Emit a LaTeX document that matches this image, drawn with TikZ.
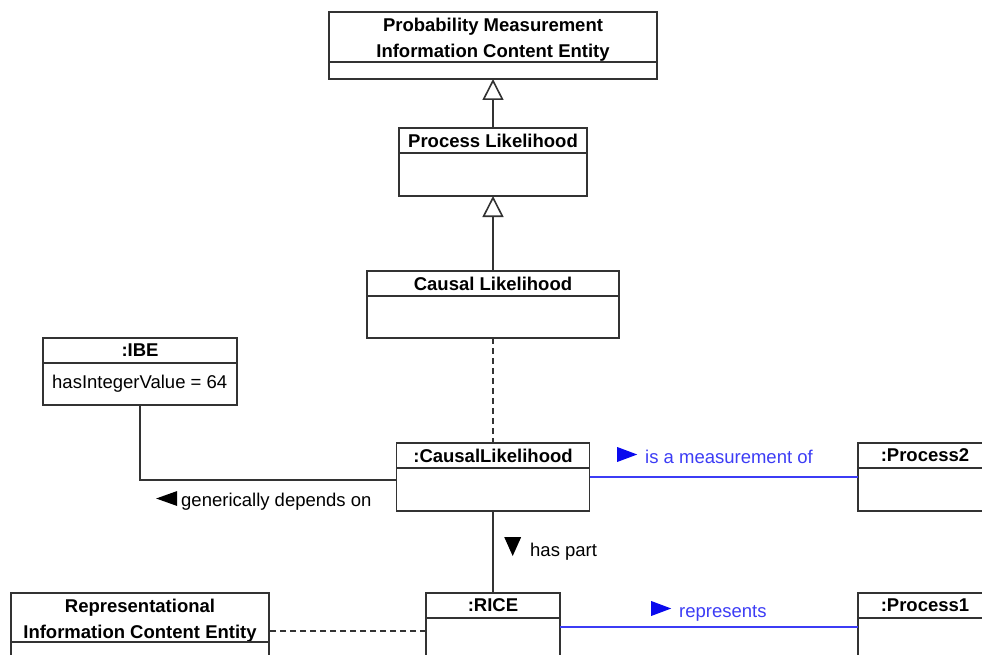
\documentclass[tikz,border=0pt]{standalone}
\usepackage{fontspec}
\setmainfont{Liberation Sans}
\usetikzlibrary{arrows.meta,positioning}
\definecolor{umlline}{HTML}{333333}
\definecolor{Assoc}{HTML}{3C3CF5}
\definecolor{AssocTip}{HTML}{0A0AEE}

\newcommand{\tipright}[1]{\tikz[baseline=0pt]\fill[#1] (0pt,1pt) -- (20pt,8.5pt) -- (0pt,16pt) -- cycle;}
\newcommand{\tipleft}[1]{\tikz[baseline=0pt]\fill[#1] (21pt,0pt) -- (0pt,7.5pt) -- (21pt,15pt) -- cycle;}
\newcommand{\tipdown}[1]{\tikz[baseline=0pt]\fill[#1] (0pt,19pt) -- (17pt,19pt) -- (8.5pt,0pt) -- cycle;}

\begin{document}
\begin{tikzpicture}[x=1pt, y=-1pt,
    font=\fontsize{18.5}{26}\selectfont,
    umlhead/.style={draw=umlline, line width=1.8pt, inner sep=0pt, outer sep=0pt,
      anchor=north, minimum height=25pt, align=center,
      font=\fontsize{18.5}{26}\selectfont\bfseries},
    umlbody/.style={draw=umlline, line width=1.8pt, inner sep=0pt, outer sep=0pt,
      below=0pt of #1},
    generalize/.style={draw=umlline, line width=1.6pt,
      -{Triangle[open, length=21pt, width=21pt]}},
    realize/.style={draw=umlline, line width=1.6pt, dash pattern=on 6pt off 4pt},
    assocline/.style={draw=umlline, line width=1.6pt},
    measure/.style={draw=Assoc, line width=1.6pt},
    lbl/.style={anchor=base west, inner sep=0pt}]
    \useasboundingbox (0,0) rectangle (982,655);
    \clip (0,0) rectangle (982,655);

    \node at (493, 12) (pm) [umlhead, minimum width=328pt, minimum height=50pt] {\rule{0pt}{19pt}Probability Measurement\\Information Content Entity};
    \node (pmb) [umlbody=pm, minimum width=328pt, minimum height=17pt] {};
    \node at (493, 128) (pl) [umlhead, minimum width=188pt] {Process Likelihood};
    \node (plb) [umlbody=pl, minimum width=188pt, minimum height=43pt] {};
    \node at (493, 271) (cl) [umlhead, minimum width=252pt] {Causal Likelihood};
    \node (clb) [umlbody=cl, minimum width=252pt, minimum height=42pt] {};
    \node at (140, 338) (ibe) [umlhead, minimum width=194pt] {:IBE};
    \node (ibeb) [umlbody=ibe, minimum width=194pt, minimum height=42pt] {};
    \node at (52, 388) (ibeval) [lbl] {hasIntegerValue = 64};
    \node at (493, 443) (cli) [umlhead, minimum width=193pt] {:CausalLikelihood};
    \node (clib) [umlbody=cli, minimum width=193pt, minimum height=43pt] {};
    \node at (925, 443) (ptwo) [umlhead, minimum width=134pt] {:Process2};
    \node (ptwob) [umlbody=ptwo, minimum width=134pt, minimum height=43pt] {};
    \node at (140, 593) (ric) [umlhead, minimum width=258pt, minimum height=49pt] {\rule{0pt}{19pt}Representational\\Information Content Entity};
    \node (ricb) [umlbody=ric, minimum width=258pt, minimum height=40pt] {};
    \node at (493, 593) (rice) [umlhead, minimum width=134pt] {:RICE};
    \node (riceb) [umlbody=rice, minimum width=134pt, minimum height=60pt] {};
    \node at (925, 593) (pone) [umlhead, minimum width=134pt] {:Process1};
    \node (poneb) [umlbody=pone, minimum width=134pt, minimum height=60pt] {};

    \draw[generalize] (pl.north) -- (pmb.south);
    \draw[generalize] (cl.north) -- (plb.south);
    \draw[realize] (clb.south) -- (cli.north);
    \draw[assocline] (ibeb.south) |- ([yshift=-12pt]clib.north west);
    \draw[measure] ([yshift=-9pt]clib.north east) -- ([yshift=-9pt]ptwob.north west);
    \draw[assocline] (clib.south) -- (rice.north);
    \draw[measure] ([yshift=-9pt]riceb.north east) -- ([yshift=-9pt]poneb.north west);
    \coordinate (ricejoin) at ([yshift=-13pt]riceb.north west);
    \draw[realize] (ricejoin) -- (ricejoin -| ric.east);

    \node at (156, 506) (dependslbl) [lbl] {\tipleft{black}\hspace{4pt}generically depends on};
    \node at (617, 463) (measlbl) [lbl, text=Assoc] {\tipright{AssocTip}\hspace{8pt}is a measurement of};
    \node at (504, 556) (partlbl) [lbl] {\tipdown{black}\hspace{9pt}has part};
    \node at (651, 617) (replbl) [lbl, text=Assoc] {\tipright{AssocTip}\hspace{8pt}represents};
\end{tikzpicture}
\end{document}
